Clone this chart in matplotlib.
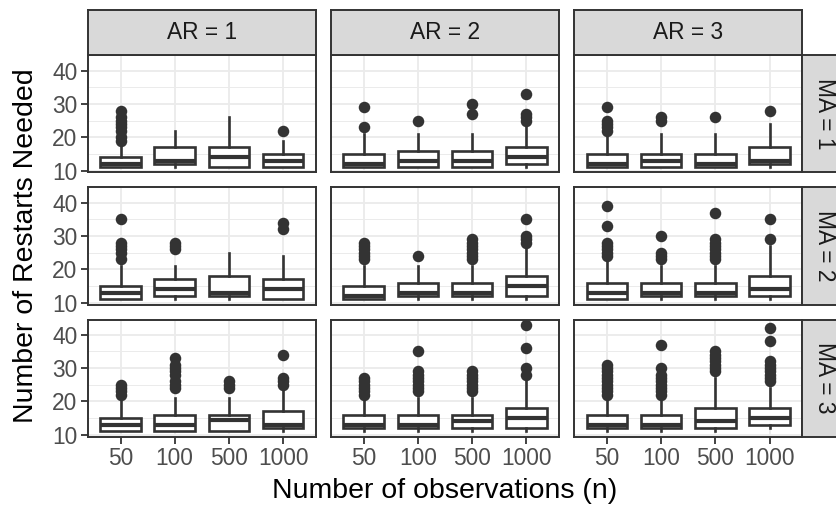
import numpy as np
import matplotlib.pyplot as plt

plt.rcParams['font.family'] = ['Liberation Sans', 'DejaVu Sans']

W, H = 837, 511

ar_labels = ['AR = 1', 'AR = 2', 'AR = 3']
ma_labels = ['MA = 1', 'MA = 2', 'MA = 3']
n_labels = ['50', '100', '500', '1000']

# box summaries, indexed [MA][AR][n]
q1 = [[[11, 12, 11, 11], [11, 11, 11, 12], [11, 11, 11, 12]],
      [[11, 12, 12, 11], [11, 12, 12, 12], [11, 12, 12, 12]],
      [[11, 11, 11, 12], [12, 12, 12, 12], [12, 12, 12, 13]]]
med = [[[12, 13, 14, 13], [12, 13, 13, 14], [12, 13, 12, 13]],
       [[13, 14, 13, 14], [12, 13, 13, 15], [13, 13, 13, 14]],
       [[13, 13, 14.5, 13], [13, 13, 14, 15], [13, 13, 14, 15]]]
q3 = [[[14, 17, 17, 15], [15, 16, 16, 17], [15, 15, 15, 17]],
      [[15, 17, 18, 17], [15, 16, 16, 18], [16, 16, 16, 18]],
      [[15, 16, 16, 17], [16, 16, 16, 18], [16, 16, 18, 18]]]
whislo = [[[11, 11, 11, 11], [11, 11, 11, 11], [11, 11, 11, 11]],
          [[11, 11, 11, 11], [11, 11, 11, 11], [11, 11, 11, 11]],
          [[11, 11, 11, 11], [11, 11, 11, 11], [11, 11, 11, 12]]]
whishi = [[[17, 22, 26, 19], [21, 21, 21, 23], [21, 21, 21, 24]],
          [[21, 21, 25, 24], [21, 21, 21, 27], [23, 21, 21, 27]],
          [[21, 21, 21, 23], [21, 21, 21, 26], [21, 21, 27, 24]]]
outliers = [
    [[[19, 20, 22, 23, 24, 25, 26, 28], [], [], [22]],
     [[23, 29], [25], [27, 30], [25, 26, 27, 33]],
     [[22, 23, 24, 25, 29], [25, 26], [26], [28]]],
    [[[23, 25, 26, 27, 28, 35], [26, 27, 28], [], [32, 34]],
     [[23, 24, 25, 26, 27, 28], [24], [23, 24, 25, 26, 27, 28, 29], [28, 29, 30, 35]],
     [[24, 25, 26, 27, 28, 33, 39], [23, 24, 25, 30], [23, 24, 25, 26, 27, 28, 29, 37], [29, 35]]],
    [[[22, 23, 24, 25], [24, 25, 26, 28, 29, 30, 31, 33], [24, 25, 26], [25, 26, 27, 34]],
     [[22, 23, 24, 25, 26, 27], [23, 24, 25, 26, 27, 28, 29, 35], [23, 24, 25, 26, 27, 28, 29], [28, 30, 36, 43]],
     [[22, 23, 24, 25, 26, 27, 28, 29, 30, 31], [22, 23, 24, 25, 26, 27, 28, 30, 37],
      [29, 30, 31, 32, 33, 34, 35], [26, 27, 28, 29, 30, 31, 32, 38, 42]]],
]

dark = '#333333'

# shared y range with ggplot-style 5% expansion
all_vals = [v for ma in whislo for ar in ma for v in ar]
all_vals += [v for ma in outliers for ar in ma for box in ar for v in box]
all_vals += [v for ma in whishi for ar in ma for v in ar]
ymin, ymax = min(all_vals), max(all_vals)
pad = 0.05 * (ymax - ymin)

fig = plt.figure(figsize=(W / 100, H / 100), dpi=100)


def px_axes(x0, y0, x1, y1, **kw):
    return fig.add_axes([x0 / W, 1 - y1 / H, (x1 - x0) / W, (y1 - y0) / H], **kw)


col_x = [88, 331.2, 574.5]
pw = 227.5
row_y = [55.5, 187.5, 319.5]
ph = 117

for i in range(3):
    for j in range(3):
        ax = px_axes(col_x[j], row_y[i], col_x[j] + pw, row_y[i] + ph)
        stats = []
        for k in range(4):
            stats.append(dict(med=med[i][j][k], q1=q1[i][j][k], q3=q3[i][j][k],
                              whislo=whislo[i][j][k], whishi=whishi[i][j][k],
                              fliers=outliers[i][j][k]))
        ax.bxp(stats, positions=range(1, 5), widths=0.75, patch_artist=True,
               showcaps=False,
               boxprops=dict(facecolor='white', edgecolor=dark, linewidth=1.9),
               medianprops=dict(color=dark, linewidth=3.0, solid_capstyle='butt'),
               whiskerprops=dict(color=dark, linewidth=1.9),
               flierprops=dict(marker='o', markerfacecolor=dark, markeredgecolor=dark,
                               markersize=8.3, markeredgewidth=0))
        ax.set_xlim(0.4, 4.6)
        ax.set_ylim(ymin - pad, ymax + pad)
        ax.set_yticks([10, 20, 30, 40])
        ax.set_yticks([15, 25, 35], minor=True)
        ax.set_xticks(range(1, 5))
        ax.grid(True, which='major', color='#EBEBEB', linewidth=1.3)
        ax.grid(True, which='minor', axis='y', color='#EBEBEB', linewidth=0.7)
        ax.set_axisbelow(True)
        for s in ax.spines.values():
            s.set_color(dark)
            s.set_linewidth(1.4)
            s.set_zorder(5)
        ax.tick_params(which='minor', length=0)
        ax.tick_params(which='major', length=5, width=1.3, color=dark,
                       labelsize=16.4, labelcolor='#4D4D4D', pad=2.5)
        if j == 0:
            ax.set_yticklabels(['10', '20', '30', '40'])
        else:
            ax.tick_params(axis='y', length=0, labelleft=False)
        if i == 2:
            ax.set_xticklabels(n_labels)
        else:
            ax.tick_params(axis='x', length=0, labelbottom=False)

# top strips
for j in range(3):
    sa = px_axes(col_x[j], 10, col_x[j] + pw, row_y[0])
    sa.set_facecolor('#D9D9D9')
    sa.set_xticks([])
    sa.set_yticks([])
    for s in sa.spines.values():
        s.set_color(dark)
        s.set_linewidth(1.4)
    sa.text(0.5, 0.5, ar_labels[j], transform=sa.transAxes, ha='center', va='center',
            fontsize=16.4, color='#1A1A1A')

# right strips
for i in range(3):
    sa = px_axes(802, row_y[i], 847, row_y[i] + ph)
    sa.set_facecolor('#D9D9D9')
    sa.set_xticks([])
    sa.set_yticks([])
    for s in sa.spines.values():
        s.set_color(dark)
        s.set_linewidth(1.4)
    sa.text(0.5, 0.5, ma_labels[i], transform=sa.transAxes, ha='center', va='center',
            rotation=-90, fontsize=16.4, color='#1A1A1A')

fig.text(445 / W, 1 - 491 / H, 'Number of observations (n)', ha='center', va='center',
         fontsize=20.5, color='black')
fig.text(26 / W, 1 - 246 / H, 'Number of Restarts Needed', ha='center', va='center',
         rotation=90, fontsize=20.5, color='black')

fig.savefig('out.png', dpi=100)
